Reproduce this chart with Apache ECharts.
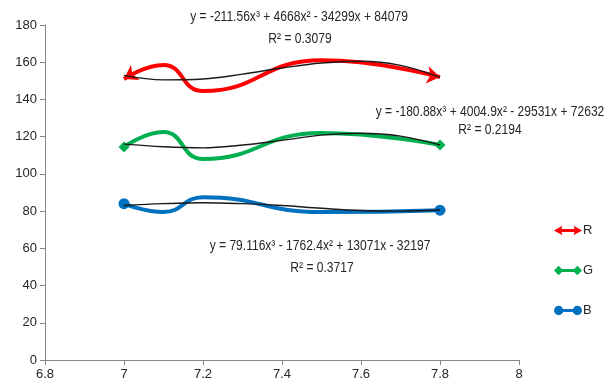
<!DOCTYPE html>
<html>
<head>
<meta charset="utf-8">
<script src="https://cdn.jsdelivr.net/npm/echarts@6/dist/echarts.min.js"></script>
<style>
  html, body { margin: 0; padding: 0; background: #fff; }
  #chart { width: 611px; height: 389px; }
</style>
</head>
<body>
<div id="chart"></div>
<script>
// Measured series: R, G, B values against x
const rX = [7.0, 7.1, 7.2, 7.5, 7.8];
const rY = [151, 158.5, 144.5, 161, 152];
const gX = [7.0, 7.1, 7.2, 7.5, 7.8];
const gY = [114.5, 122.5, 108, 122, 115.5];
const bX = [7.0, 7.1, 7.2, 7.5, 7.8];
const bY = [84, 79.5, 87.5, 79.5, 80.5];

// Cubic trendlines, sampled every 0.1
const trendX = [7.0, 7.1, 7.2, 7.3, 7.4, 7.5, 7.6, 7.7, 7.8];
const rTrend = [152.9, 150.5, 151.0, 153.6, 156.9, 159.6, 160.5, 158.3, 151.9];
const gTrend = [116.0, 114.6, 114.0, 115.5, 118.0, 120.8, 121.8, 120.3, 115.5];
const bTrend = [83.0, 84.0, 84.5, 84.0, 83.0, 81.5, 80.3, 80.0, 80.6];

// Trendline equation labels
const rEq = 'y = -211.56x³ + 4668x² - 34299x + 84079';
const rR2 = 'R² = 0.3079';
const gEq = 'y = -180.88x³ + 4004.9x² - 29531x + 72632';
const gR2 = 'R² = 0.2194';
const bEq = 'y = 79.116x³ - 1762.4x² + 13071x - 32197';
const bR2 = 'R² = 0.3717';

// Axis ticks
const xMin = 6.8, xMax = 8, xStep = 0.2;
const yMin = 0, yMax = 180, yStep = 20;

const FONT = "'Liberation Sans', Arial, sans-serif";
const TEXT = '#262626';
const AXIS = '#868686';
const LABEL_SCALE = 0.86; // condensed look for the equation text

function zip(xs, ys) { return xs.map((x, i) => [x, ys[i]]); }

// Series data with end markers only on first and last points
function withEnds(xs, ys, symbol, size, rotFirst, rotLast) {
  return xs.map((x, i) => {
    const item = { value: [x, ys[i]] };
    if (i === 0) { item.symbol = symbol; item.symbolSize = size; item.symbolRotate = rotFirst; }
    else if (i === xs.length - 1) { item.symbol = symbol; item.symbolSize = size; item.symbolRotate = rotLast; }
    else { item.symbol = 'none'; }
    return item;
  });
}

const ICON_R = 'path://M0,5 L9,0 L8,3.4 L22,3.4 L21,0 L30,5 L21,10 L22,6.6 L8,6.6 L9,10 Z';
const ICON_G = 'path://M0,5 L5,0 L10,5 L5,10 Z M20,5 L25,0 L30,5 L25,10 Z M5,3.4 L25,3.4 L25,6.6 L5,6.6 Z';
const ICON_B = 'path://M0,5 A5,5 0 1 1 10,5 A5,5 0 1 1 0,5 Z M20,5 A5,5 0 1 1 30,5 A5,5 0 1 1 20,5 Z M5,3.4 L25,3.4 L25,6.6 L5,6.6 Z';

const colorR = '#FF0000', colorG = '#00B050', colorB = '#0070C0';

function dataSeries(name, color, data) {
  return {
    name: name, type: 'line', smooth: 0.5, data: data,
    symbol: 'none', showSymbol: true, showAllSymbol: true,
    lineStyle: { color: color, width: 4 },
    itemStyle: { color: color },
    emphasis: { disabled: true }, z: 2, animation: false
  };
}
function trendSeries(name, ys) {
  return {
    name: name, type: 'line', smooth: 0.4, data: zip(trendX, ys),
    symbol: 'none', lineStyle: { color: '#1a1a1a', width: 1.4 },
    emphasis: { disabled: true }, z: 3, animation: false, silent: true
  };
}

const chart = echarts.init(document.getElementById('chart'), null, { renderer: 'canvas' });

function label(x, y, s) {
  return {
    type: 'text', x: x, y: y, scaleX: LABEL_SCALE, z: 10,
    style: { text: s, fill: TEXT, font: '14px ' + FONT, textAlign: 'center', textVerticalAlign: 'middle' }
  };
}

chart.setOption({
  animation: false,
  backgroundColor: '#fff',
  grid: { left: 45, right: 92, top: 25, bottom: 29, containLabel: false },
  xAxis: {
    type: 'value', min: xMin, max: xMax, interval: xStep,
    axisLine: { lineStyle: { color: AXIS, width: 1 } },
    axisTick: { show: true, length: 5, inside: false, lineStyle: { color: AXIS } },
    splitLine: { show: false },
    axisLabel: {
      color: TEXT, fontFamily: FONT, fontSize: 13, margin: 8,
      formatter: v => String(+(+v).toFixed(1))
    }
  },
  yAxis: {
    type: 'value', min: yMin, max: yMax, interval: yStep,
    axisLine: { show: true, lineStyle: { color: AXIS, width: 1 } },
    axisTick: { show: true, length: 5, lineStyle: { color: AXIS } },
    splitLine: { show: false },
    axisLabel: { color: TEXT, fontFamily: FONT, fontSize: 13, margin: 8 }
  },
  legend: {
    orient: 'vertical', left: 549, top: 219, itemWidth: 28, itemHeight: 11, itemGap: 27,
    textStyle: { color: TEXT, fontFamily: FONT, fontSize: 13, padding: [0, 0, 0, -4] },
    selectedMode: false,
    data: [
      { name: 'R', icon: ICON_R },
      { name: 'G', icon: ICON_G },
      { name: 'B', icon: ICON_B }
    ]
  },
  series: [
    dataSeries('R', colorR, withEnds(rX, rY, 'arrow', 13, 120, -100)),
    dataSeries('G', colorG, withEnds(gX, gY, 'diamond', 11, 0, 0)),
    dataSeries('B', colorB, withEnds(bX, bY, 'circle', 11, 0, 0)),
    trendSeries('R trend', rTrend),
    trendSeries('G trend', gTrend),
    trendSeries('B trend', bTrend)
  ],
  graphic: [
    label(299, 17, rEq), label(300, 39, rR2),
    label(490, 112, gEq), label(490, 130, gR2),
    label(320, 246, bEq), label(322, 268, bR2)
  ]
});
</script>
</body>
</html>
